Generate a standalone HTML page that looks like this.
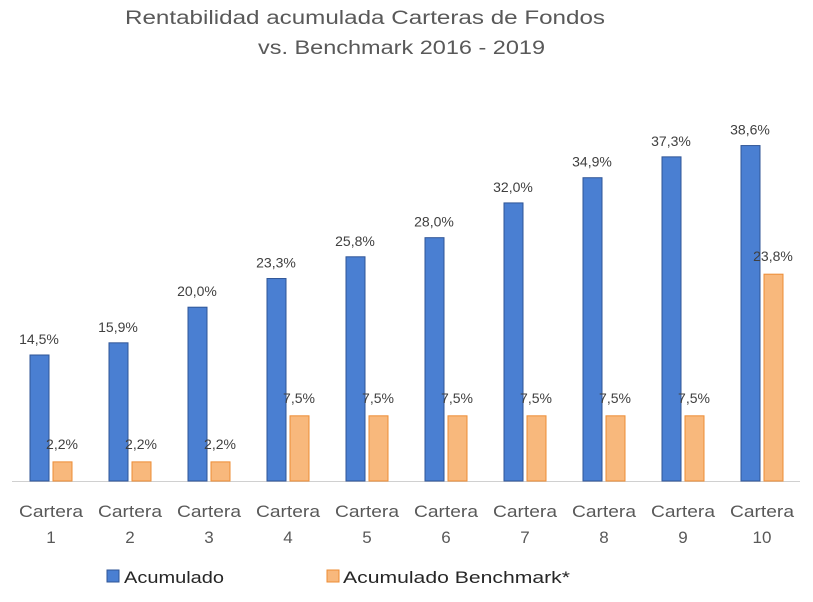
<!DOCTYPE html>
<html><head><meta charset="utf-8"><style>
body{margin:0;background:#fff;font-family:"Liberation Sans",sans-serif}
svg text{font-family:"Liberation Sans",sans-serif}
</style></head><body>
<svg width="813" height="597">
<text x="125" y="24" font-size="19" fill="#595959" textLength="480" lengthAdjust="spacingAndGlyphs">Rentabilidad acumulada Carteras de Fondos</text>
<text x="258" y="54" font-size="19" fill="#595959" textLength="287" lengthAdjust="spacingAndGlyphs">vs. Benchmark 2016 - 2019</text>
<line x1="12" y1="481.5" x2="800" y2="481.5" stroke="#d0d0d0"/>
<g id="bars"></g>
<rect x="107" y="570" width="12" height="12" fill="#4a7fd2" stroke="#2f5597"/>
<text x="124" y="583" font-size="17" fill="#262626" textLength="100" lengthAdjust="spacingAndGlyphs">Acumulado</text>
<rect x="327" y="570" width="12" height="12" fill="#f8b87c" stroke="#ed8c35"/>
<text x="343" y="583" font-size="17" fill="#262626" textLength="227" lengthAdjust="spacingAndGlyphs">Acumulado Benchmark*</text>
</svg>
<script>
const categories=["1","2","3","4","5","6","7","8","9","10"];
const acumulado=[14.5,15.9,20.0,23.3,25.8,28.0,32.0,34.9,37.3,38.6];
const benchmark=[2.2,2.2,2.2,7.5,7.5,7.5,7.5,7.5,7.5,23.8];
const NS="http://www.w3.org/2000/svg";
const g=document.getElementById('bars');
const base=481, k=8.69;
const xC=i=>51+i*79;
const yV=v=>base-v*k;
const fmt=v=>v.toFixed(1).replace('.',',')+'%';
function mk(t,a){const e=document.createElementNS(NS,t);for(const n in a)e.setAttribute(n,a[n]);g.appendChild(e);return e;}
categories.forEach((c,i)=>{
  const cx=xC(i);
  const b=mk('rect',{x:cx-21,y:yV(acumulado[i]),width:19,height:acumulado[i]*k,fill:'#4a7fd2',stroke:'#2f5597','stroke-width':1});
  
  
  const o=mk('rect',{x:cx+2,y:yV(benchmark[i]),width:19,height:benchmark[i]*k,fill:'#f8b87c',stroke:'#ed8c35','stroke-width':1});
  
  
  const l1=mk('text',{x:cx-12,y:yV(acumulado[i])-11,'text-anchor':'middle','font-size':14,fill:'#404040'});
  l1.textContent=fmt(acumulado[i]);
  
  
  const l2=mk('text',{x:cx+11,y:yV(benchmark[i])-13,'text-anchor':'middle','font-size':14,fill:'#404040'});
  l2.textContent=fmt(benchmark[i]);
  
  
  const t1=mk('text',{x:cx-32,y:517,'font-size':17,fill:'#595959',textLength:64,lengthAdjust:'spacingAndGlyphs'});
  t1.textContent='Cartera';
  
  
  const t2=mk('text',{x:cx,y:543,'text-anchor':'middle','font-size':17,fill:'#595959'});
  t2.textContent=c;
  
  
});
</script>
</body></html>
